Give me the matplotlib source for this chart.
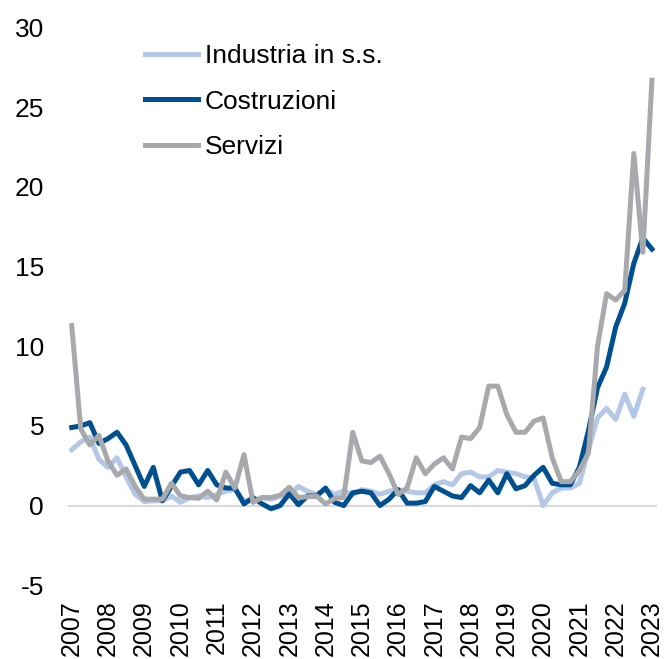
import matplotlib
matplotlib.use("Agg")
import matplotlib.pyplot as plt
import numpy as np

plt.rcParams['font.family'] = ['Liberation Sans', 'DejaVu Sans']
plt.rcParams['axes.unicode_minus'] = False

# quarterly data, 2007 Q1 - 2023 Q1
years = [str(y) for y in range(2007, 2024)]

industria = [3.5, 4.0, 4.3, 2.9, 2.4, 3.0, 1.8, 0.7, 0.25, 0.3,
             0.3, 0.6, 0.2, 0.5, 0.6, 0.5, 0.7, 0.9, 1.0, 0.3,
             0.3, 0.5, 0.4, 0.6, 0.6, 1.2, 0.9, 0.7, 1.0, 0.7,
             0.9, 0.7, 1.0, 0.9, 0.7, 0.9, 1.0, 0.9, 0.8, 0.8,
             1.3, 1.5, 1.3, 2.0, 2.1, 1.8, 1.8, 2.2, 2.1, 2.0,
             1.8, 1.7, 0.0, 0.8, 1.1, 1.1, 1.4, 3.5, 5.5, 6.1,
             5.4, 7.0, 5.6, 7.3]

costruzioni = [4.9, 5.0, 5.2, 3.9, 4.2, 4.6, 3.8, 2.5, 1.2, 2.4,
               0.3, 1.2, 2.1, 2.2, 1.3, 2.2, 1.3, 1.1, 1.1, 0.1,
               0.5, 0.1, -0.2, 0.0, 0.75, 0.05, 0.6, 0.6, 1.1, 0.2,
               0.0, 0.8, 0.9, 0.8, 0.0, 0.4, 1.0, 0.15, 0.15, 0.25,
               1.2, 0.9, 0.6, 0.5, 1.25, 0.8, 1.6, 0.8, 2.0, 1.05,
               1.25, 1.9, 2.4, 1.4, 1.3, 1.3, 2.4, 4.7, 7.4, 8.7,
               11.2, 12.7, 15.2, 16.8, 16.1]

servizi = [11.3, 4.8, 3.8, 4.4, 2.8, 1.9, 2.3, 1.2, 0.4, 0.4,
           0.4, 1.4, 0.6, 0.5, 0.45, 0.9, 0.35, 2.1, 1.1, 3.2,
           0.2, 0.5, 0.5, 0.65, 1.15, 0.5, 0.55, 0.6, 0.1, 0.45,
           0.5, 4.6, 2.8, 2.7, 3.1, 2.0, 0.7, 1.1, 3.0, 2.0,
           2.6, 3.0, 2.3, 4.3, 4.2, 4.9, 7.5, 7.5, 5.7, 4.6,
           4.6, 5.3, 5.5, 3.0, 1.5, 1.5, 2.2, 3.3, 10.0, 13.3,
           12.9, 13.5, 22.1, 15.9, 26.7]

fig = plt.figure(figsize=(6.64, 6.59), dpi=100)
ax = fig.add_axes([0.102, 0.112, 0.888, 0.846])

ax.axhline(0, color='#D9D9D9', lw=1.5, zorder=1)
ax.plot(np.arange(len(industria)), industria, color='#B4C7E7', lw=3.6,
        label='Industria in s.s.', solid_joinstyle='round', zorder=2)
ax.plot(np.arange(len(costruzioni)), costruzioni, color='#00508F', lw=3.6,
        label='Costruzioni', solid_joinstyle='round', zorder=3)
ax.plot(np.arange(len(servizi)), servizi, color='#A7A9AC', lw=3.6,
        label='Servizi', solid_joinstyle='round', zorder=4)

ax.set_ylim(-5, 30)
ax.set_yticks(range(-5, 31, 5))
ax.set_xlim(-0.44, 64.6)
ax.set_xticks(range(0, 65, 4))
ax.set_xticklabels(years, rotation=90)

for s in ax.spines.values():
    s.set_visible(False)
ax.tick_params(axis='y', length=0, pad=17, labelsize=19)
ax.tick_params(axis='x', length=0, pad=11, labelsize=18)

ax.legend(loc='upper left', bbox_to_anchor=(145 / 664, 1 - 44 / 659),
          bbox_transform=fig.transFigure, frameon=False, fontsize=19,
          handlelength=2.0, handletextpad=0.27, labelspacing=0.82,
          borderpad=0, borderaxespad=0)

fig.savefig('out.png', dpi=100)
